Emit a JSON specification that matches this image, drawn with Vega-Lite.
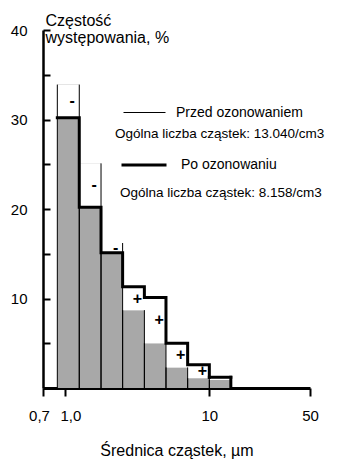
{
  "$schema": "https://vega.github.io/schema/vega-lite/v6.json",
  "width": 267,
  "height": 358,
  "autosize": "none",
  "padding": {"left": 43, "top": 30, "right": 31, "bottom": 72},
  "config": {"font": "Liberation Sans", "view": {"stroke": null}, "axis": {"grid": false}},
  "data": {"values": [
    {"lo": 0.88, "hi": 1.25, "przed": 33.9, "po": 30.2, "znak": "-"},
    {"lo": 1.25, "hi": 1.77, "przed": 25.1, "po": 20.2, "znak": "-"},
    {"lo": 1.77, "hi": 2.5, "przed": 16.2, "po": 15.1, "znak": "-"},
    {"lo": 2.5, "hi": 3.54, "przed": 8.7, "po": 11.3, "znak": "+"},
    {"lo": 3.54, "hi": 5, "przed": 5.0, "po": 10.1, "znak": "+"},
    {"lo": 5, "hi": 7.07, "przed": 2.3, "po": 5.0, "znak": "+"},
    {"lo": 7.07, "hi": 10, "przed": 1.1, "po": 2.6, "znak": "+"},
    {"lo": 10, "hi": 14.1, "przed": 0.9, "po": 1.2, "znak": ""}
  ]},
  "layer": [
    {
      "mark": {"type": "rect", "fill": "#a8a8a8", "strokeWidth": 0},
      "encoding": {
        "x": {"field": "lo", "type": "quantitative", "title": "Średnica cząstek, µm",
          "scale": {"type": "log", "domain": [0.7, 50], "nice": false},
          "axis": {"values": [0.7, 1, 10, 50], "labelExpr": "datum.value == 0.7 ? '0,7' : datum.value == 1 ? '1,0' : format(datum.value, 'd')",
            "labelOffset": {"condition": [{"test": "datum.value == 0.7", "value": -4}, {"test": "datum.value == 1", "value": 5}], "value": 0},
            "labelOverlap": false, "labelFlush": false, "tickSize": 8, "tickWidth": 2, "tickColor": "black",
            "domainColor": "black", "domainWidth": 3, "labelFontSize": 15, "labelColor": "black", "labelPadding": 12,
            "titleFontSize": 16, "titleFontWeight": "normal", "titleColor": "black", "titlePadding": 19}},
        "x2": {"field": "hi"},
        "y": {"field": "przed", "type": "quantitative", "title": ["Częstość", "występowania, %"],
          "scale": {"domain": [0, 40], "nice": false},
          "axis": {"values": [0, 5, 10, 15, 20, 25, 30, 35, 40],
            "labelExpr": "datum.value > 0 && datum.value % 10 == 0 ? datum.label : ''",
            "tickSize": -7, "tickWidth": 2, "tickColor": "black", "domainColor": "black", "domainWidth": 2.5,
            "labelFontSize": 15, "labelColor": "black", "labelPadding": 23,
            "titleAngle": 0, "titleAlign": "left", "titleBaseline": "top", "titleX": 2, "titleY": -18,
            "titleFontSize": 16, "titleFontWeight": "normal", "titleLineHeight": 17, "titleColor": "black"}},
        "y2": {"datum": 0}
      }
    },
    {
      "mark": {"type": "rect", "fill": "white", "strokeWidth": 0},
      "encoding": {
        "x": {"field": "lo", "type": "quantitative", "title": "Średnica cząstek, µm"},
        "x2": {"field": "hi"},
        "y": {"field": "po", "type": "quantitative", "title": ["Częstość", "występowania, %"]},
        "y2": {"field": "przed"}
      }
    },
    {
      "mark": {"type": "rule", "strokeWidth": 1},
      "encoding": {
        "x": {"field": "lo", "type": "quantitative", "title": "Średnica cząstek, µm"},
        "y": {"field": "przed", "type": "quantitative", "title": ["Częstość", "występowania, %"]},
        "y2": {"datum": 0},
        "stroke": {"datum": "Przed ozonowaniem", "scale": {"range": ["black"]},
          "legend": {"orient": "none", "legendX": 72, "legendY": 61, "padding": 0,
            "title": "Ogólna liczba cząstek: 13.040/cm3", "titleOrient": "bottom", "titleAnchor": "start", "titleAlign": "left",
            "titleFontSize": 13.5, "titleFontWeight": "normal", "titleColor": "black", "titlePadding": 7, "titleLimit": 400,
            "labelFontSize": 14, "labelColor": "black", "labelOffset": 10,
            "symbolType": "stroke", "symbolSize": 1764, "symbolStrokeWidth": 1, "symbolOffset": 8}}
      }
    },
    {
      "mark": {"type": "rule", "strokeWidth": 1, "color": "black"},
      "encoding": {
        "x": {"field": "hi", "type": "quantitative", "title": "Średnica cząstek, µm"},
        "y": {"field": "przed", "type": "quantitative", "title": ["Częstość", "występowania, %"]},
        "y2": {"datum": 0}
      }
    },
    {
      "mark": {"type": "line", "interpolate": "step-after", "strokeWidth": 3, "strokeCap": "square"},
      "encoding": {
        "x": {"field": "lo", "type": "quantitative", "title": "Średnica cząstek, µm"},
        "y": {"field": "po", "type": "quantitative", "title": ["Częstość", "występowania, %"]},
        "stroke": {"datum": "Po ozonowaniu", "scale": {"range": ["black"]},
          "legend": {"orient": "none", "legendX": 77, "legendY": 111, "padding": 0,
            "title": "Ogólna liczba cząstek: 8.158/cm3", "titleOrient": "bottom", "titleAnchor": "start", "titleAlign": "left",
            "titleFontSize": 13.5, "titleFontWeight": "normal", "titleColor": "black", "titlePadding": 14, "titleLimit": 400,
            "labelFontSize": 14, "labelColor": "black", "labelOffset": 13,
            "symbolType": "stroke", "symbolSize": 2025, "symbolStrokeWidth": 3, "symbolOffset": 0}}
      }
    },
    {
      "transform": [{"filter": "datum.hi > 14"}],
      "mark": {"type": "rule", "strokeWidth": 3, "color": "black", "strokeCap": "square"},
      "encoding": {
        "x": {"field": "lo", "type": "quantitative", "title": "Średnica cząstek, µm"},
        "x2": {"field": "hi"},
        "y": {"field": "po", "type": "quantitative", "title": ["Częstość", "występowania, %"]}
      }
    },
    {
      "transform": [{"filter": "datum.hi > 14"}],
      "mark": {"type": "rule", "strokeWidth": 3, "color": "black", "strokeCap": "square"},
      "encoding": {
        "x": {"field": "hi", "type": "quantitative", "title": "Średnica cząstek, µm"},
        "y": {"field": "po", "type": "quantitative", "title": ["Częstość", "występowania, %"]},
        "y2": {"datum": 0}
      }
    },
    {
      "transform": [
        {"fold": ["przed", "po"], "as": ["seria", "wart"]},
        {"fold": ["lo", "hi"], "as": ["kraw", "xw"]}
      ],
      "mark": {"type": "text", "fontSize": 16, "fontWeight": "bold", "dx": 3, "color": "black"},
      "encoding": {
        "x": {"aggregate": "mean", "field": "xw", "type": "quantitative", "title": "Średnica cząstek, µm"},
        "y": {"aggregate": "mean", "field": "wart", "type": "quantitative", "title": ["Częstość", "występowania, %"]},
        "detail": {"field": "lo", "type": "quantitative"},
        "text": {"field": "znak", "type": "nominal"}
      }
    }
  ],
  "resolve": {"scale": {"stroke": "independent"}, "legend": {"stroke": "independent"}}
}
